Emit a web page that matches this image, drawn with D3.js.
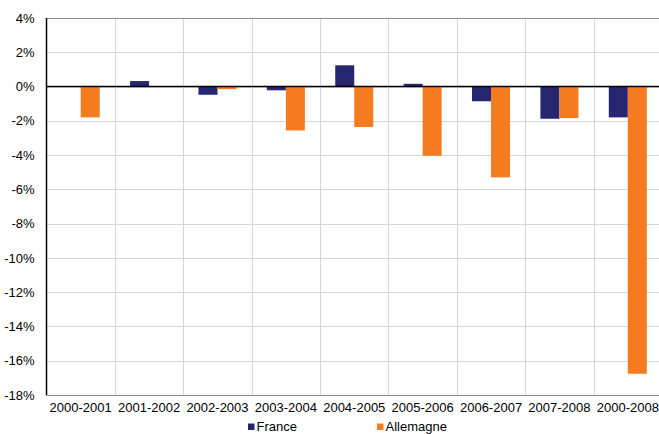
<!DOCTYPE html>
<html><head><meta charset="utf-8">
<script src="https://cdn.jsdelivr.net/npm/d3@7"></script>
<style>body{margin:0;background:#fff;}svg{display:block;font-family:"Liberation Sans",Arial,sans-serif;}</style>
</head><body>
<svg id="c" width="659" height="434"></svg>
<script>
const categories = ["2000-2001","2001-2002","2002-2003","2003-2004","2004-2005","2005-2006","2006-2007","2007-2008","2000-2008"];
const seriesNames = ["France","Allemagne"];
const france =    [0.0, 0.32, -0.48, -0.22, 1.24, 0.16, -0.86, -1.88, -1.80];
const allemagne = [-1.80, 0.0, -0.15, -2.56, -2.36, -4.04, -5.30, -1.84, -16.76];
const yTicks = [4,2,0,-2,-4,-6,-8,-10,-12,-14,-16,-18];
const colors = ["#262671","#F47B20"];

(function(){
const svg = d3.select("#c");
const pLeft = 46.5, pRight = 662, pTop = 18, pBottom = 395;
const x0 = d3.scaleBand().domain(categories).range([pLeft, pRight]).padding(0);
const bw = x0.bandwidth();
const x1 = d3.scaleBand().domain(seriesNames).range([bw*0.222, bw*0.778]).padding(0);
const y = d3.scaleLinear().domain([-18, 4]).range([pBottom, pTop]);

// horizontal grid
svg.append("g").selectAll("line").data(yTicks).join("line")
  .attr("x1", pLeft).attr("x2", 659)
  .attr("y1", d => Math.round(y(d)) + 0.5).attr("y2", d => Math.round(y(d)) + 0.5)
  .attr("stroke", "#d6d6d6").attr("stroke-width", 1);
// vertical grid
svg.append("g").selectAll("line").data(categories.slice(1)).join("line")
  .attr("x1", d => Math.round(x0(d)) + 0.5).attr("x2", d => Math.round(x0(d)) + 0.5)
  .attr("y1", pTop).attr("y2", pBottom)
  .attr("stroke", "#d6d6d6").attr("stroke-width", 1);

// top border and bottom axis
svg.append("line").attr("x1", pLeft).attr("x2", 659).attr("y1", Math.round(y(4))+0.5).attr("y2", Math.round(y(4))+0.5).attr("stroke", "#8c8c8c").attr("stroke-width", 1.2);
svg.append("line").attr("x1", pLeft).attr("x2", 659).attr("y1", Math.round(y(-18))+0.5).attr("y2", Math.round(y(-18))+0.5).attr("stroke", "#8c8c8c").attr("stroke-width", 1.2);

// bars
const data = categories.map((c, i) => ({c, vals: [france[i], allemagne[i]]}));
const g = svg.append("g").selectAll("g").data(data).join("g")
  .attr("transform", d => `translate(${x0(d.c)},0)`);
g.selectAll("rect").data(d => d.vals.map((v, j) => ({name: seriesNames[j], v, j}))).join("rect")
  .attr("x", d => x1(d.name))
  .attr("width", x1.bandwidth())
  .attr("y", d => y(Math.max(0, d.v)))
  .attr("height", d => Math.abs(y(d.v) - y(0)))
  .attr("fill", d => colors[d.j]);

// zero line
svg.append("line").attr("x1", pLeft).attr("x2", 659).attr("y1", y(0)).attr("y2", y(0)).attr("stroke", "#000").attr("stroke-width", 1.5);
// left axis line
svg.append("line").attr("x1", pLeft).attr("x2", pLeft).attr("y1", pTop).attr("y2", pBottom).attr("stroke", "#000").attr("stroke-width", 1.5);

// y labels
const yAxis = d3.axisLeft(y).tickValues(yTicks).tickFormat(d => d + "%").tickSize(0).tickPadding(12);
const ya = svg.append("g").attr("transform", `translate(${pLeft},0)`).call(yAxis);
ya.select(".domain").remove();
ya.selectAll("text").attr("font-size", 13).attr("fill", "#000").attr("font-family", "Liberation Sans, Arial, sans-serif");

// x labels
const xAxis = d3.axisBottom(x0).tickSize(0).tickPadding(8);
const xa = svg.append("g").attr("transform", `translate(0,${pBottom})`).call(xAxis);
xa.select(".domain").remove();
xa.selectAll("text").attr("font-size", 13).attr("fill", "#000").attr("font-family", "Liberation Sans, Arial, sans-serif");

// legend
const legendX = [248, 377];
const lg = svg.append("g").selectAll("g").data(seriesNames).join("g")
  .attr("transform", (d, i) => `translate(${legendX[i]},421)`);
lg.append("rect").attr("width", 6.5).attr("height", 6.5).attr("y", 2.5).attr("fill", (d, i) => colors[i]);
lg.append("text").attr("x", 8.5).attr("y", 10).attr("font-size", 13).attr("fill", "#000").text(d => d);
})();
</script>
</body></html>
